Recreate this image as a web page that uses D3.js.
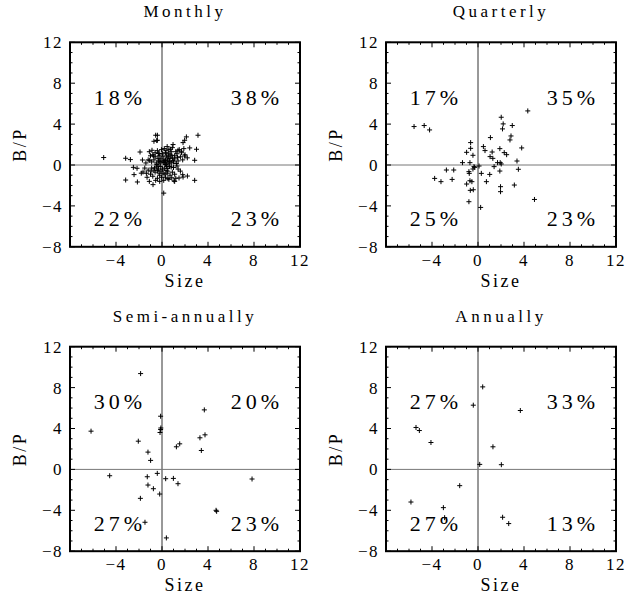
<!DOCTYPE html>
<html>
<head>
<meta charset="utf-8">
<script src="https://cdn.jsdelivr.net/npm/d3@7"></script>
<style>
  body { margin: 0; background: #fff; }
  text { font-family: "Liberation Serif", serif; fill: #000; }
</style>
</head>
<body>
<svg id="chart" width="628" height="597"></svg>
<script>

var titles = ["Monthly", "Quarterly", "Semi-annually", "Annually"];

// quadrant shares: upper-left, upper-right, lower-left, lower-right
var monthlyPct   = ["18%", "38%", "22%", "23%"];
var quarterlyPct = ["17%", "35%", "25%", "23%"];
var semiPct      = ["30%", "20%", "27%", "23%"];
var annualPct    = ["27%", "33%", "27%", "13%"];

var xTicks = [-4, 0, 4, 8, 12];
var yTicks = [-8, -4, 0, 4, 8, 12];

var monthlyPoints = [
  [-5.07,0.73],[-3.16,0.66],[-2.75,0.53],[-1.91,1.27],[-1.70,0.49],[-2.49,-0.23],[-2.17,-0.32],
  [-2.43,-0.94],[-3.16,-1.47],[-2.14,-1.66],[-1.65,-0.68],[-1.36,-0.81],[-1.10,-1.60],[-0.78,-1.92],
  [-0.55,2.91],[-0.70,2.32],[-0.46,2.39],[-0.87,1.44],[-0.75,0.88],[-1.07,0.46],[-0.31,1.12],
  [0.15,-2.75],[3.13,2.91],[2.12,2.75],[1.97,2.42],[1.83,2.19],[0.96,2.00],[2.41,1.67],[3.0,1.54],
  [1.39,1.44],[1.69,1.34],[2.84,0.46],[1.97,0.88],[2.21,-1.08],[1.83,-1.18],[2.84,-1.50],
  [1.10,-1.60],[1.48,-1.27],[0.52,-1.33],[-0.40,2.91],[-0.40,2.42],
  [0.2,0.3],[0.5,0.6],[0.8,0.2],[1.1,0.9],[0.3,1.2],[0.6,1.5],[1.4,0.4],[0.9,0.7],[0.1,0.8],
  [0.4,0.1],[1.2,1.3],[0.7,1.0],[1.6,0.8],[0.2,1.6],[0.5,0.4],[1.0,0.3],[0.3,0.5],[0.8,1.3],
  [1.3,1.1],[0.6,0.2],[0.15,0.25],[1.8,0.5],[0.9,1.7],[0.4,0.9],[1.1,0.6],[0.25,0.45],[0.7,0.65],
  [1.5,1.5],[2.0,1.0],[0.35,1.4],[0.55,0.8],[1.25,0.15],[0.05,1.1],[0.95,0.45],[0.45,1.8],
  [1.7,1.2],[0.65,0.35],[2.2,0.7],[0.85,0.95],[0.1,0.4],[1.35,0.75],[0.3,0.05],[0.75,1.55],
  [1.9,1.6],[0.55,1.15],
  [-0.3,0.4],[-0.6,0.8],[-0.2,1.1],[-0.9,0.3],[-0.5,0.2],[-0.1,0.6],[-0.8,1.0],[-0.4,1.4],
  [-1.2,0.5],[-0.15,0.2],[-0.7,0.5],[-1.0,0.9],[-0.25,0.9],[-0.45,0.05],[-1.4,0.2],[-0.05,1.5],
  [-0.6,1.2],[-0.35,0.65],[-1.1,1.3],[-0.2,0.35],
  [-0.3,-0.4],[-0.6,-0.7],[-0.2,-1.0],[-0.9,-0.3],[-0.5,-0.2],[-0.1,-0.6],[-0.8,-1.1],[-0.4,-1.3],
  [-1.2,-0.5],[-0.15,-0.15],[-0.7,-0.5],[-1.0,-0.9],[-0.25,-0.8],[-1.5,-0.3],[-0.55,-1.5],
  [-0.35,-0.1],[-1.3,-1.2],[-0.05,-1.2],[-0.65,-0.3],[-0.95,-0.6],[-0.4,-0.55],[-1.8,-0.8],[-0.2,-1.6],
  [0.2,-0.3],[0.5,-0.6],[0.8,-0.2],[1.1,-0.9],[0.3,-1.2],[0.6,-1.4],[1.4,-0.4],[0.9,-0.7],[0.1,-0.8],
  [0.4,-0.1],[1.2,-1.3],[0.7,-1.0],[1.6,-0.6],[0.15,-1.5],[0.5,-0.35],[1.0,-0.25],[0.35,-0.55],
  [0.85,-1.25],[1.3,-0.1],[0.25,-0.9],[1.8,-0.95],[0.65,-0.15],[0.05,-0.4],[1.05,-1.55],[0.45,-0.8]
];

var quarterlyPoints = [
  [-5.56,3.76],[-4.68,3.86],[-4.21,3.43],[4.33,5.29],[2.02,4.67],[2.19,4.02],[2.13,3.53],[2.98,3.86],
  [1.08,2.68],[2.87,2.84],[2.78,2.45],[-0.64,2.19],[-0.64,1.63],[0.47,1.80],[0.61,1.41],[-0.99,1.24],
  [-0.44,0.95],[1.90,1.60],[1.23,1.27],[3.80,1.67],[2.28,1.21],[2.49,1.01],[1.05,0.82],[1.29,0.65],
  [3.39,0.39],[-1.35,0.23],[-0.70,0.23],[1.70,0.23],[1.93,0.23],[2.02,0.10],[1.40,-0.16],[0.09,-0.10],
  [-0.29,-0.23],[-0.44,-0.39],[-2.75,-0.49],[-2.11,-0.49],[-0.76,-0.82],[0.29,-0.82],[1.02,-0.92],
  [1.90,-0.59],[3.51,-0.42],[-3.77,-1.31],[-3.22,-1.63],[-2.25,-1.41],[-0.70,-1.54],[-0.53,-1.63],
  [-0.99,-1.86],[0.73,-1.63],[3.16,-1.96],[1.96,-2.12],[1.96,-2.61],[-0.67,-2.48],[-0.41,-2.42],
  [-0.79,-3.59],[4.91,-3.37],[0.23,-4.15],[-0.35,-0.16],[-0.79,-0.65]
];

var semiPoints = [
  [-1.86,9.37],[-6.17,3.74],[-0.12,5.20],[-0.12,3.90],[-0.17,3.61],[-0.10,4.05],[-2.06,2.76],
  [-1.22,1.69],[-0.99,0.88],[3.68,5.82],[3.74,3.38],[3.30,3.09],[1.54,2.50],[1.25,2.21],[3.42,1.85],
  [-4.55,-0.62],[-1.28,-0.72],[-0.41,-0.39],[0.32,-0.91],[0.99,-0.88],[1.39,-1.40],[7.83,-0.94],
  [-1.22,-1.53],[-0.75,-1.89],[-0.20,-2.41],[-1.88,-2.83],[4.75,-4.10],[4.70,-4.00],[-1.48,-5.17],
  [0.38,-6.70]
];

var annualPoints = [
  [0.41,8.07],[-0.41,6.28],[3.68,5.76],[-5.39,4.10],[-5.10,3.80],[-4.09,2.63],[1.30,2.21],
  [0.15,0.49],[2.03,0.46],[-1.59,-1.59],[-5.83,-3.19],[-3.01,-3.74],[-2.90,-4.72],[2.14,-4.68],
  [2.67,-5.30]
];

var svg = d3.select("#chart");

var panelW = 230, panelH = 204.5;
var panelLefts = [70, 386];
var panelTops = [42.3, 346.7];

function drawPanel(title, points, pcts, left, top){

  var x = d3.scaleLinear().domain([-8, 12]).range([0, panelW]);
  var y = d3.scaleLinear().domain([-8, 12]).range([panelH, 0]);

  var g = svg.append("g").attr("transform", "translate(" + left + "," + top + ")");

  g.append("text")
    .attr("x", panelW / 2).attr("y", -25)
    .attr("text-anchor", "middle")
    .style("font-size", "17px").style("letter-spacing", "3.5px")
    .text(title);

  // zero lines
  g.append("line").attr("x1", x(0)).attr("x2", x(0)).attr("y1", 0).attr("y2", panelH)
    .attr("stroke", "#333").attr("stroke-width", 1);
  g.append("line").attr("x1", 0).attr("x2", panelW).attr("y1", y(0)).attr("y2", y(0))
    .attr("stroke", "#777").attr("stroke-width", 1);

  // minor + major ticks, inward, on all four sides
  var minor = d3.range(-8, 13, 1);
  minor.forEach(function(v){
    var len = (v % 4 == 0) ? 5 : 2.5;
    g.append("line").attr("x1", x(v)).attr("x2", x(v)).attr("y1", panelH).attr("y2", panelH - len)
      .attr("stroke", "#000").attr("stroke-width", 1);
    g.append("line").attr("x1", x(v)).attr("x2", x(v)).attr("y1", 0).attr("y2", len)
      .attr("stroke", "#000").attr("stroke-width", 1);
    g.append("line").attr("y1", y(v)).attr("y2", y(v)).attr("x1", 0).attr("x2", len)
      .attr("stroke", "#000").attr("stroke-width", 1);
    g.append("line").attr("y1", y(v)).attr("y2", y(v)).attr("x1", panelW).attr("x2", panelW - len)
      .attr("stroke", "#000").attr("stroke-width", 1);
  });

  g.append("rect").attr("width", panelW).attr("height", panelH)
    .attr("fill", "none").attr("stroke", "#000").attr("stroke-width", 2);

  g.selectAll("text.xt").data(xTicks).enter().append("text")
    .attr("class", "xt")
    .attr("x", function(d){ return x(d); }).attr("y", panelH + 19)
    .attr("text-anchor", "middle")
    .style("font-size", "17px").style("letter-spacing", "1.5px")
    .text(function(d){ return d < 0 ? "\u2212" + (-d) : d; });

  g.selectAll("text.yt").data(yTicks).enter().append("text")
    .attr("class", "yt")
    .attr("x", -7).attr("y", function(d){ return y(d) + 6; })
    .attr("text-anchor", "end")
    .style("font-size", "17px").style("letter-spacing", "1.5px")
    .text(function(d){ return d < 0 ? "\u2212" + (-d) : d; });

  g.append("text")
    .attr("x", panelW / 2).attr("y", panelH + 40)
    .attr("text-anchor", "middle")
    .style("font-size", "18px").style("letter-spacing", "2.5px")
    .text("Size");

  g.append("text")
    .attr("transform", "translate(" + (-44) + "," + (panelH / 2) + ") rotate(-90)")
    .attr("text-anchor", "middle")
    .style("font-size", "18px").style("letter-spacing", "2.5px")
    .text("B/P");

  // quadrant labels
  var labelPos = [[-3.65, 5.9], [8.25, 5.9], [-3.65, -6.0], [8.25, -6.0]];
  g.selectAll("text.pct").data(pcts).enter().append("text")
    .attr("class", "pct")
    .attr("x", function(d, i){ return x(labelPos[i][0]); })
    .attr("y", function(d, i){ return y(labelPos[i][1]); })
    .attr("text-anchor", "middle")
    .style("font-size", "22px").style("letter-spacing", "4px")
    .text(function(d){ return d; });

  g.append("g").selectAll("path").data(points).enter().append("path")
    .attr("d", function(d){
      var px = x(d[0]), py = y(d[1]);
      return "M" + (px - 2.5) + "," + py + "H" + (px + 2.5) + "M" + px + "," + (py - 2.5) + "V" + (py + 2.5);
    })
    .attr("stroke", "#000").attr("stroke-width", 1).attr("fill", "none");
}

drawPanel(titles[0], monthlyPoints, monthlyPct, panelLefts[0], panelTops[0]);
drawPanel(titles[1], quarterlyPoints, quarterlyPct, panelLefts[1], panelTops[0]);
drawPanel(titles[2], semiPoints, semiPct, panelLefts[0], panelTops[1]);
drawPanel(titles[3], annualPoints, annualPct, panelLefts[1], panelTops[1]);

</script>
</body>
</html>
